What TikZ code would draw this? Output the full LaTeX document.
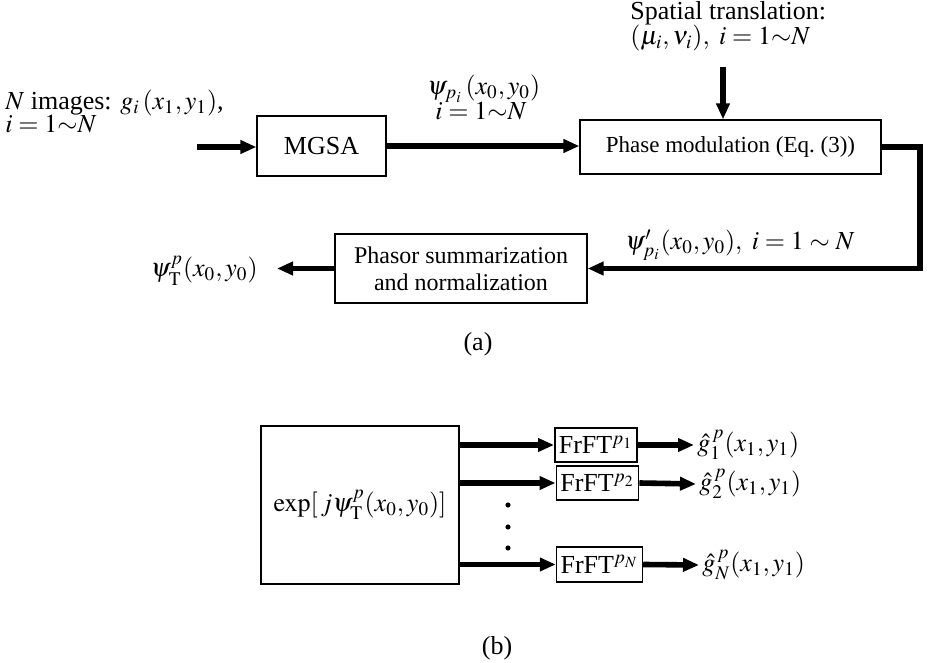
\documentclass[tikz,border=0pt]{standalone}
\usepackage{mathptmx}
\usepackage[no-math]{fontspec}
\setmainfont{Liberation Serif}
\usetikzlibrary{arrows.meta}
\begin{document}
\begin{tikzpicture}[x=0.5pt, y=-0.5pt, font=\fontsize{13}{15}\selectfont,
  lbl/.style={inner sep=0pt},
  blk/.style={draw=black, line width=0.6pt, inner sep=2pt},
  conn/.style={line width=2.8pt, -{Triangle[length=8pt,width=6.5pt]}}]
\useasboundingbox (0,0) rectangle (934,663);
\node[blk, minimum width=64.5pt, minimum height=30pt] (mgsa) at (321.5,146) {MGSA};
\node[blk, minimum width=150.5pt, minimum height=27pt, font=\fontsize{11.5}{15}\selectfont] (phase) at (730.5,147) {Phase modulation (Eq.~(3))};
\node[blk, minimum width=126pt, minimum height=34.5pt, align=center, font=\fontsize{12}{13.5}\selectfont] (phasor) at (461,268.5) {Phasor summarization\\ and normalization};
\node[lbl, anchor=base west] (imgs) at (5,110) {$N$ images: $g_i\,(x_1,y_1)$,};
\node[lbl, anchor=base west] (imgsn) at (5,133) {$i=1{\sim}N$};
\node[lbl, anchor=base west] (psip) at (427,95) {$\psi_{p_i}\,(x_0,y_0)$};
\node[lbl, anchor=base west] (psipn) at (435,120) {$i=1{\sim}N$};
\node[lbl, anchor=base west] (spat) at (630,20) {Spatial translation:};
\node[lbl, anchor=base west] (spatn) at (630,45) {$(\mu_i,\nu_i),\ i=1{\sim}N$};
\node[lbl, anchor=base west] (psid) at (625,250) {$\psi'_{p_i}(x_0,y_0),\ i=1\sim N$};
\node[lbl, anchor=base east] (psiT) at (258,277) {$\psi^{p}_{\mathrm{T}}(x_0,y_0)$};
\coordinate (in) at (197,147);
\coordinate (sp) at (723,67);
\coordinate (turn) at (920,268.5);
\coordinate (outT) at (277,268.5);
\draw[conn] (in) -- (in -| mgsa.west);
\draw[conn] (mgsa.east) -- (mgsa.east -| phase.west);
\draw[conn] (sp) -- (sp |- phase.north);
\draw[conn] (phase.east) -| (turn) -- (phasor.east);
\draw[conn] (phasor.west) -- (outT);
\node[] (capa) at (478,344) {(a)};

\node[blk, line width=1pt, minimum width=99pt, minimum height=79pt] (expb) at (360,505) {$\exp[\,j\psi^{p}_{\mathrm{T}}(x_0,y_0)]$};
\node[blk, line width=0.8pt, minimum width=40pt, minimum height=17pt] (fr1) at (596,445) {FrFT$^{p_1}$};
\node[blk, line width=0.8pt, minimum width=40.5pt, minimum height=17pt] (fr2) at (597.5,483) {FrFT$^{p_2}$};
\node[blk, line width=0.8pt, minimum width=41.5pt, minimum height=17.5pt] (frN) at (599.5,564.5) {FrFT$^{p_N}$};
\node[lbl, inner sep=1.5pt, anchor=west] (g1) at (694,445) {$\hat{g}^{\,p}_1(x_1,y_1)$};
\node[lbl, inner sep=1.5pt, anchor=west] (g2) at (696,484) {$\hat{g}^{\,p}_2(x_1,y_1)$};
\node[lbl, inner sep=1.5pt, anchor=west] (gN) at (699,565) {$\hat{g}^{\,p}_N(x_1,y_1)$};
\foreach \f in {fr1,fr2,frN}
  \draw[conn] (\f.west -| expb.east) -- (\f.west);
\draw[conn] (fr1.east) -- (g1.west);
\draw[conn] (fr2.east) -- (g2.west);
\draw[conn] (frN.east) -- (gN.west);
\foreach \y in {505,527,548}
  \fill (508,\y) circle (1.3pt);
\node[] (capb) at (497,648) {(b)};
\end{tikzpicture}
\end{document}
